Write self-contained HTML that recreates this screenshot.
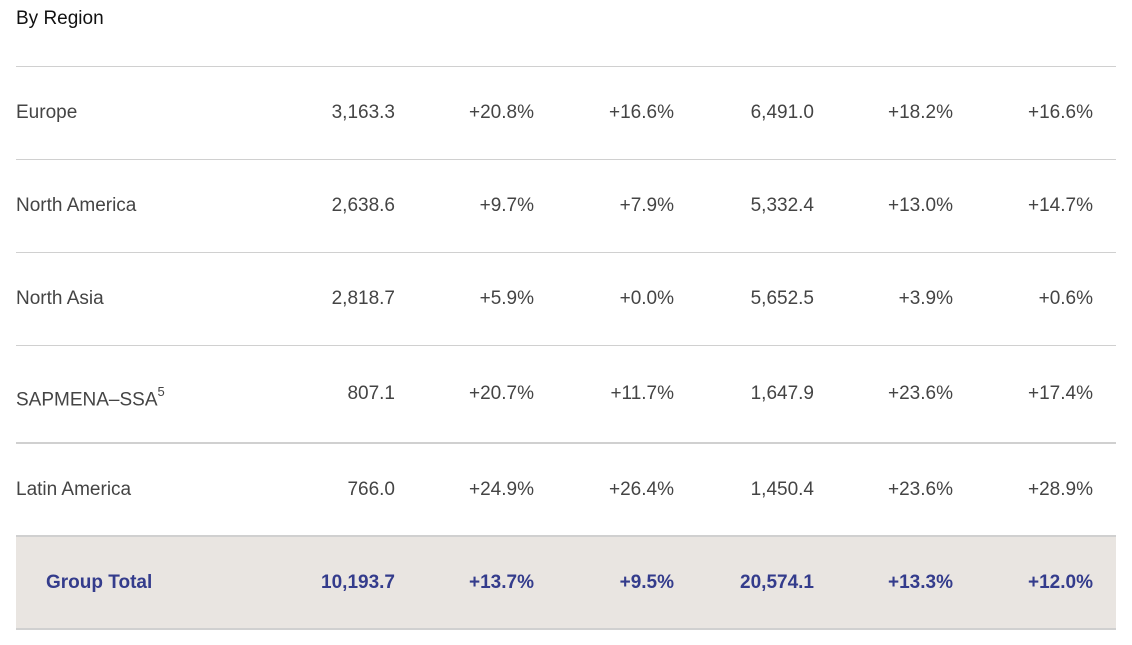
<!DOCTYPE html>
<html><head><meta charset="utf-8"><style>
body{margin:0;width:1132px;height:645px;background:#fff;font-family:"Liberation Sans",sans-serif;position:relative;overflow:hidden}
.t{position:absolute;left:16px;top:8px;font-size:19px;color:#111}
.line{position:absolute;left:16px;width:1100px;background:#d0d0d0}
.bg{position:absolute;left:16px;top:537px;width:1100px;height:91px;background:#e9e5e1}
.c{position:absolute;font-size:19px;color:#444;line-height:24px;white-space:nowrap}
.r{text-align:right;width:200px}
.tot{color:#343c8c;font-weight:bold}
sup{font-size:13px;position:relative;top:-2px}
</style></head><body>
<div class="t">By Region</div>
<div class="bg"></div>
<div id="tbl"></div>
<script>
const regions=["Europe","North America","North Asia","SAPMENA–SSA","Latin America","Group Total"];
const col1=["3,163.3","2,638.6","2,818.7","807.1","766.0","10,193.7"];
const col2=["+20.8%","+9.7%","+5.9%","+20.7%","+24.9%","+13.7%"];
const col3=["+16.6%","+7.9%","+0.0%","+11.7%","+26.4%","+9.5%"];
const col4=["6,491.0","5,332.4","5,652.5","1,647.9","1,450.4","20,574.1"];
const col5=["+18.2%","+13.0%","+3.9%","+23.6%","+23.6%","+13.3%"];
const col6=["+16.6%","+14.7%","+0.6%","+17.4%","+28.9%","+12.0%"];
const cols=[col1,col2,col3,col4,col5,col6];
const rights=[395,534,674,814,953,1093];
const centers=[113,206,299,394,490,583];
const lines=[[66,1],[159,1],[252,1],[345,1],[442,2],[535,2],[628,2]];
const tbl=document.getElementById('tbl');
lines.forEach(([y,h])=>{const d=document.createElement('div');d.className='line';d.style.top=y+'px';d.style.height=h+'px';


tbl.appendChild(d);});
regions.forEach((r,i)=>{
const tot=i===5;
const l=document.createElement('div');l.className='c'+(tot?' tot':'');
l.style.left=(tot?46:16)+'px';l.style.top=(centers[i]-12)+'px';
l.innerHTML=r+(i===3?'<sup>5</sup>':'');


tbl.appendChild(l);
cols.forEach((c,j)=>{const d=document.createElement('div');d.className='c r'+(tot?' tot':'');
d.style.left=(rights[j]-200)+'px';d.style.top=(centers[i]-12)+'px';d.textContent=c[i];


tbl.appendChild(d);});
});
</script>
</body></html>
